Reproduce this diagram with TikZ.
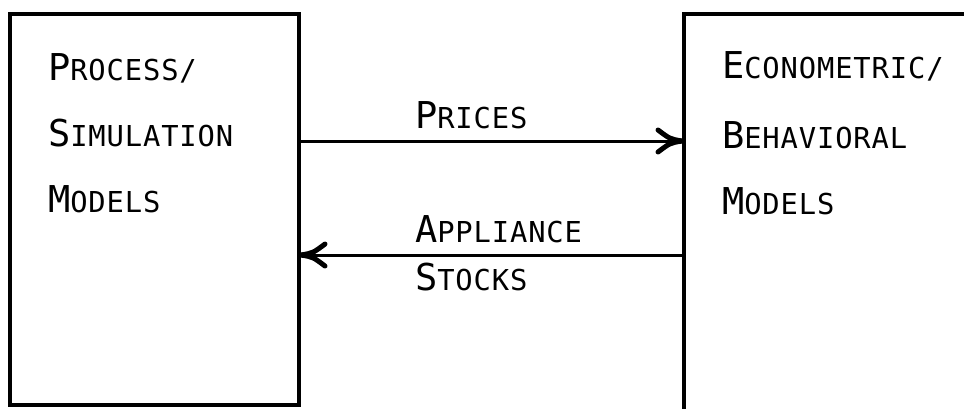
\documentclass[tikz,border=0pt]{standalone}
\usepackage{fontspec}
\newfontfamily\plotfont[LetterSpace=3]{DejaVu Sans Mono}
\newcommand{\pcap}[2]{{\plotfont\fontsize{37}{37}\selectfont #1}{\plotfont\fontsize{28.8}{28.8}\selectfont #2}}
\tikzset{
  boxstyle/.style={draw, line width=4pt, inner sep=0pt, outer sep=0pt},
  lbl/.style={anchor=base west, inner sep=0pt, outer sep=0pt},
  flowline/.style={line width=3pt},
  barb/.style={line width=5pt, line cap=round, line join=round},
}
\begin{document}
\begin{tikzpicture}[x=1pt,y=-1pt]
\useasboundingbox (0,0) rectangle (964,408);
\clip (0,0) rectangle (964,408);
% boxes
\node[boxstyle, minimum width=289pt, minimum height=391pt] (sim) at (154.5,209.5) {};
\node[boxstyle, minimum width=320pt, minimum height=440pt] (econ) at (844,234) {};
% texts
\node[lbl] (t1) at (48,80) {\pcap{P}{ROCESS/}};
\node[lbl] (t2) at (48,146) {\pcap{S}{IMULATION}};
\node[lbl] (t3) at (48,212) {\pcap{M}{ODELS}};
\node[lbl] (t4) at (722,78) {\pcap{E}{CONOMETRIC/}};
\node[lbl] (t5) at (722,148) {\pcap{B}{EHAVIORAL}};
\node[lbl] (t6) at (722,214) {\pcap{M}{ODELS}};
% connectors
\coordinate (py) at (0,141);
\coordinate (ay) at (0,255);
\coordinate (pe) at (econ.west |- py);
\coordinate (ae) at (sim.east |- ay);
\draw[flowline] (sim.east |- py) -- (pe);
\draw[flowline] (econ.west |- ay) -- (ae);
\begin{scope}[shift={(pe)}]
  \draw[barb] (-2,0) .. controls (-14,-2) .. (-26,-11);
  \draw[barb] (-2,0) .. controls (-14,2) .. (-26,11);
\end{scope}
\begin{scope}[shift={(ae)}, xscale=-1]
  \draw[barb] (-2,0) .. controls (-14,-2) .. (-26,-11);
  \draw[barb] (-2,0) .. controls (-14,2) .. (-26,11);
\end{scope}
\node[lbl] (pr) at (415,128) {\pcap{P}{RICES}};
\node[lbl] (ap) at (415,242) {\pcap{A}{PPLIANCE}};
\node[lbl] (st) at (415,290) {\pcap{S}{TOCKS}};
\end{tikzpicture}
\end{document}
